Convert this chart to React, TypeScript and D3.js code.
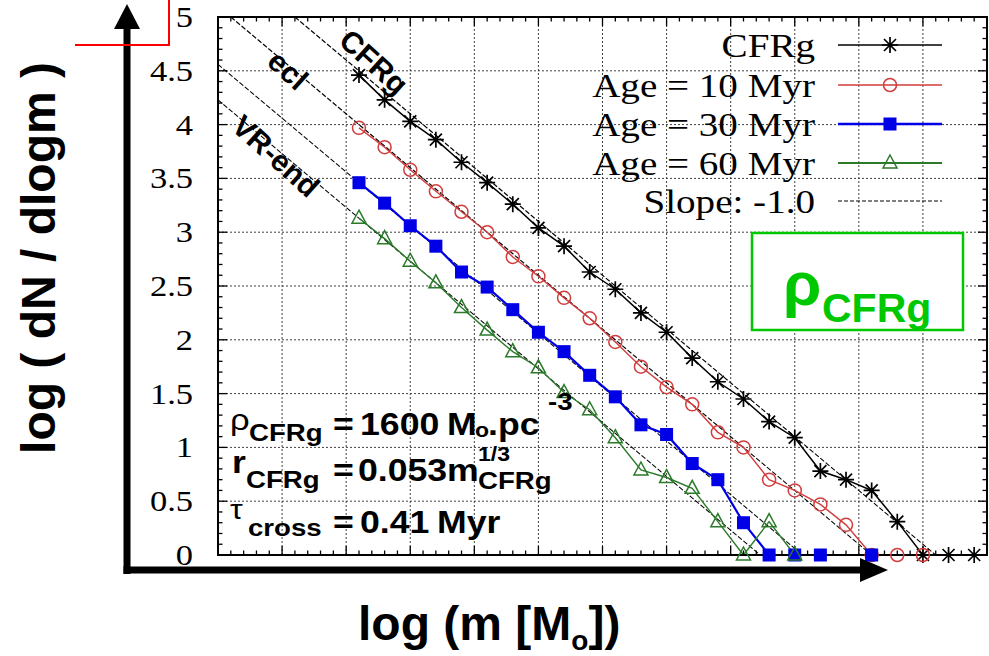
import React from 'react';
import * as d3 from 'd3';

// log(m) of the mass bins
const logM = [-0.9, -0.7, -0.5, -0.3, -0.1, 0.1, 0.3, 0.5, 0.7, 0.9, 1.1, 1.3, 1.5, 1.7, 1.9, 2.1, 2.3, 2.5, 2.7, 2.9, 3.1, 3.3, 3.5, 3.7, 3.9];

// log(dN/dlogm) per series (null = empty bin)
const cfrg = [4.46, 4.23, 4.03, 3.86, 3.65, 3.46, 3.26, 3.04, 2.87, 2.63, 2.47, 2.25, 2.07, 1.83, 1.61, 1.45, 1.24, 1.09, 0.78, 0.70, 0.60, 0.31, 0, 0, 0];
const age10 = [3.97, 3.79, 3.58, 3.38, 3.19, 3.0, 2.77, 2.59, 2.39, 2.2, 1.98, 1.75, 1.56, 1.4, 1.14, 1.0, 0.7, 0.6, 0.47, 0.28, 0, 0, 0];
const age30 = [3.46, 3.27, 3.06, 2.87, 2.63, 2.49, 2.28, 2.07, 1.89, 1.67, 1.47, 1.21, 1.12, 0.85, 0.7, 0.3, 0, 0, 0, null, 0];
const age60 = [3.13, 2.94, 2.73, 2.53, 2.3, 2.09, 1.89, 1.74, 1.51, 1.35, 1.09, 0.79, 0.72, 0.62, 0.31, 0, 0.31, 0];

// slope -1 reference lines: intercepts (CFRg, ecl, VR-end, age 60)
const slopeIntercepts = [3.6, 3.1, 2.56, 2.23];

const yTickLabels = ['0', '0.5', '1', '1.5', '2', '2.5', '3', '3.5', '4', '4.5', '5'];
const legendLabels = ['CFRg', 'Age = 10 Myr', 'Age = 30 Myr', 'Age = 60 Myr', 'Slope: -1.0'];

const W = 989;
const H = 656;
const SX = 1.15; // the plot image is stretched horizontally
const SANS = '"Liberation Sans", Arial, sans-serif';
const SERIF = '"Liberation Serif", "Times New Roman", serif';

type Marker = 'star' | 'circle' | 'square' | 'triangle' | 'none';

function MarkerShape({ cx, cy, type, color }: { cx: number; cy: number; type: Marker; color: string }) {
  if (type === 'star') {
    const d = `M${cx - 8},${cy}H${cx + 8}M${cx},${cy - 8}V${cy + 8}M${cx - 6},${cy - 6}L${cx + 6},${cy + 6}M${cx - 6},${cy + 6}L${cx + 6},${cy - 6}`;
    return <path d={d} stroke={color} strokeWidth={1.7} fill="none" />;
  }
  if (type === 'circle') return <circle cx={cx} cy={cy} r={6.5} fill="none" stroke={color} strokeWidth={1.5} />;
  if (type === 'square') return <rect x={cx - 6.5} y={cy - 6.5} width={13} height={13} fill={color} />;
  if (type === 'triangle')
    return <path d={`M${cx},${cy - 8}L${cx + 7},${cy + 5}L${cx - 7},${cy + 5}Z`} fill="none" stroke={color} strokeWidth={1.5} />;
  return null;
}

// stretched text piece
function T({ x, y, s, t, bold = true, font = SANS, anchor = 'start', fill = '#000' }: any) {
  return (
    <text
      transform={`translate(${x},${y}) scale(${SX},1)`}
      fontFamily={font}
      fontWeight={bold ? 'bold' : 'normal'}
      fontSize={s}
      textAnchor={anchor}
      fill={fill}
    >
      {t}
    </text>
  );
}

export default function App() {
  const x = d3.scaleLinear().domain([-2, 4]).range([218, 987]);
  const y = d3.scaleLinear().domain([0, 5]).range([555, 17]);
  const [xa, xb] = x.range();
  const [ya, yb] = y.range();

  const xMajor = d3.range(-1.5, 3.6, 0.5);
  const yMajor = d3.range(0.5, 4.6, 0.5);
  const xMinor = d3.range(0, 61).map((i) => -2 + i * 0.1);
  const yMinor = d3.range(0, 51).map((i) => i * 0.1);

  const series = [
    { vals: cfrg, color: '#000000', marker: 'star' as Marker, width: 1.5 },
    { vals: age10, color: '#d23c3c', marker: 'circle' as Marker, width: 1.4 },
    { vals: age30, color: '#0000e6', marker: 'square' as Marker, width: 2.2 },
    { vals: age60, color: '#2a7a2a', marker: 'triangle' as Marker, width: 1.4 },
  ];

  const line = d3
    .line<[number, number | null]>()
    .defined((d) => d[1] != null)
    .x((d) => x(d[0]))
    .y((d) => y(d[1] as number));

  const legendRows = [45, 85, 124, 163, 201];
  const legendStyles = [
    { color: '#000000', marker: 'star' as Marker, width: 1.5, dash: undefined },
    { color: '#d23c3c', marker: 'circle' as Marker, width: 1.4, dash: undefined },
    { color: '#0000e6', marker: 'square' as Marker, width: 2.5, dash: undefined },
    { color: '#2a7a2a', marker: 'triangle' as Marker, width: 2, dash: undefined },
    { color: '#000000', marker: 'none' as Marker, width: 1.2, dash: '4,2' },
  ];

  return (
    <svg width={W} height={H} style={{ position: 'absolute', left: 0, top: 0, background: '#fff' }}>
      {/* grid */}
      {xMajor.map((v) => (
        <line key={'gx' + v} x1={x(v)} x2={x(v)} y1={yb} y2={ya} stroke="#404040" strokeWidth={1} strokeDasharray="2,2" />
      ))}
      {yMajor.map((v) => (
        <line key={'gy' + v} x1={xa} x2={xb} y1={y(v)} y2={y(v)} stroke="#404040" strokeWidth={1} strokeDasharray="2,2" />
      ))}

      {/* slope -1 reference lines, trimmed to the frame */}
      {slopeIntercepts.map((b) => {
        const lx0 = Math.max(-2, b - 5);
        return (
          <line
            key={'s' + b}
            x1={x(lx0)}
            y1={y(b - lx0)}
            x2={x(b)}
            y2={y(0)}
            stroke="#000"
            strokeWidth={1.1}
            strokeDasharray="5,2"
          />
        );
      })}

      {/* series lines */}
      {series.map((s, i) => (
        <path
          key={'l' + i}
          d={line(s.vals.map((v, j) => [logM[j], v] as [number, number | null])) || ''}
          fill="none"
          stroke={s.color}
          strokeWidth={s.width}
        />
      ))}

      {/* frame and ticks */}
      <rect x={xa} y={yb} width={xb - xa} height={ya - yb} fill="none" stroke="#000" strokeWidth={2} />
      {xMinor.map((v, i) => {
        const len = i % 5 === 0 ? 9 : 4.5;
        return (
          <g key={'tx' + i}>
            <line x1={x(v)} x2={x(v)} y1={ya} y2={ya - len} stroke="#000" strokeWidth={1.3} />
            <line x1={x(v)} x2={x(v)} y1={yb} y2={yb + len} stroke="#000" strokeWidth={1.3} />
          </g>
        );
      })}
      {yMinor.map((v, i) => {
        const len = i % 5 === 0 ? 9 : 4.5;
        return (
          <g key={'ty' + i}>
            <line x1={xa} x2={xa + len} y1={y(v)} y2={y(v)} stroke="#000" strokeWidth={1.3} />
            <line x1={xb} x2={xb - len} y1={y(v)} y2={y(v)} stroke="#000" strokeWidth={1.3} />
          </g>
        );
      })}

      {/* markers */}
      {series.map((s, i) =>
        s.vals.map((v, j) =>
          v == null ? null : <MarkerShape key={i + '-' + j} cx={x(logM[j])} cy={y(v)} type={s.marker} color={s.color} />
        )
      )}

      {/* y tick labels */}
      {yTickLabels.map((lab, i) => (
        <T key={lab} x={193} y={y(i * 0.5) + 10} s={30} t={lab} bold={false} font={SERIF} anchor="end" />
      ))}

      {/* line labels */}
      <g fontFamily={SANS} fontWeight="bold" fontSize={30} textAnchor="middle" dominantBaseline="central">
        <text transform="translate(374,62) rotate(42)">CFRg</text>
        <text transform="translate(288,70) rotate(42)">ecl</text>
        <text transform="translate(276,156) rotate(42)">VR-end</text>
      </g>

      {/* legend */}
      {legendLabels.map((lab, i) => {
        const ry = legendRows[i];
        const st = legendStyles[i];
        return (
          <g key={lab}>
            <T x={815} y={ry + 12} s={34} t={lab} bold={false} font={SERIF} anchor="end" />
            <line x1={838} x2={942} y1={ry} y2={ry} stroke={st.color} strokeWidth={st.width} strokeDasharray={st.dash} />
            <MarkerShape cx={890} cy={ry} type={st.marker} color={st.color} />
          </g>
        );
      })}

      {/* annotations */}
      <T x={230} y={430} s={30} t="ρ" bold={false} />
      <T x={249} y={441} s={24} t="CFRg" />
      <T x={333} y={435} s={31} t="=" />
      <T x={360} y={435} s={31} t="1600" />
      <T x={447} y={435} s={31} t="M" />
      <T x={475} y={437} s={20} t="o" />
      <T x={488} y={435} s={31} t=".pc" />
      <T x={548} y={410} s={24} t="-3" />

      <T x={232} y={473} s={31} t="r" />
      <T x={246} y={488} s={24} t="CFRg" />
      <T x={333} y={481} s={31} t="=" />
      <T x={358} y={481} s={31} t="0.053" />
      <T x={447} y={481} s={31} t="m" />
      <T x={478} y={461} s={20} t="1/3" />
      <T x={478} y={489} s={24} t="CFRg" />

      <T x={230} y={519} s={28} t="τ" bold={false} />
      <T x={248} y={536} s={24} t="cross" />
      <T x={333} y={533} s={31} t="=" />
      <T x={360} y={533} s={31} t="0.41" />
      <T x={437} y={533} s={31} t="Myr" />

      {/* green box */}
      <rect x={752} y={233} width={211} height={97} fill="#fff" stroke="#00c800" strokeWidth={2.5} />
      <text fontFamily={SANS} fontWeight="bold" fill="#00c800">
        <tspan x={783} y={305} fontSize={62}>ρ</tspan>
        <tspan x={822} y={322} fontSize={41}>CFRg</tspan>
      </text>

      {/* axis labels */}
      <text
        transform="translate(55,258) rotate(-90)"
        textAnchor="middle"
        fontFamily={SANS}
        fontWeight="bold"
        fontSize={48}
      >
        log ( dN / dlogm )
      </text>
      <text x={358} y={640} fontFamily={SANS} fontWeight="bold" fontSize={48}>
        log (m [M<tspan fontSize={28} dy={10}>o</tspan>
        <tspan dy={-10}>])</tspan>
      </text>

      {/* arrows */}
      <rect x={123.5} y={25} width={7} height={549} fill="#000" />
      <path d="M127,4L114,29L140,29Z" fill="#000" />
      <rect x={123.5} y={566.5} width={739} height={7} fill="#000" />
      <path d="M888,570L860,558L860,582Z" fill="#000" />

      {/* red marker lines */}
      <polyline points="75,45 169,45 169,0" fill="none" stroke="#ff0000" strokeWidth={2} />
    </svg>
  );
}
